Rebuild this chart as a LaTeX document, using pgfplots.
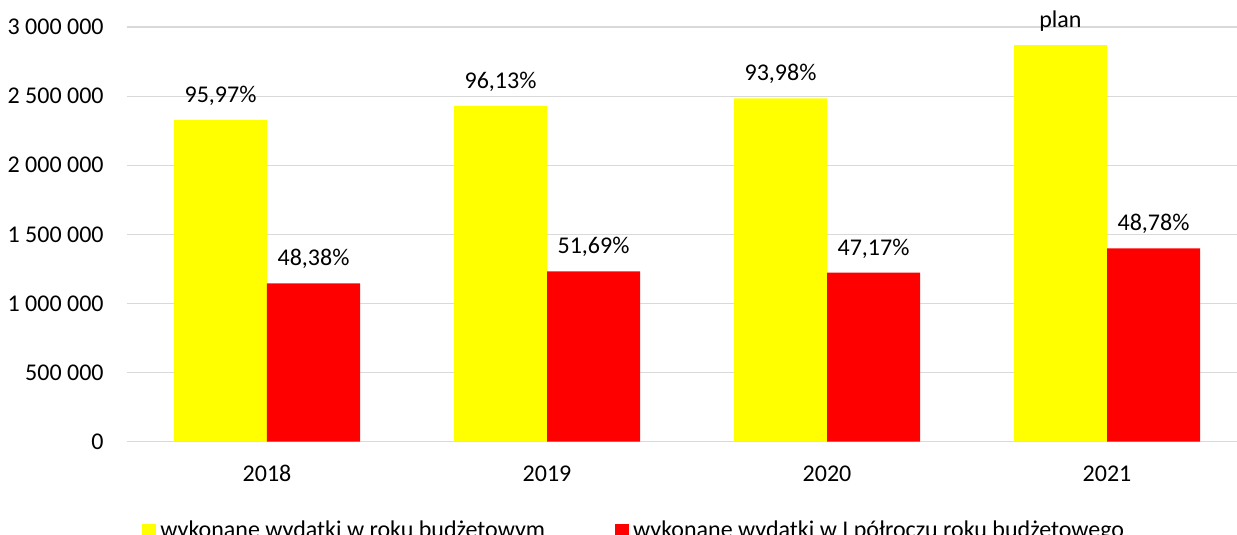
\documentclass[border=0pt]{standalone}
\usepackage{fontspec}
\setmainfont{Carlito}
\usepackage{pgfplots}
\pgfplotsset{compat=1.18}
\definecolor{barY}{HTML}{FFFF00}
\definecolor{barR}{HTML}{FF0000}
\definecolor{gridc}{HTML}{D9D9D9}
\newcommand{\lbl}{\fontsize{12}{14}\selectfont}

\begin{document}
\begin{tikzpicture}
\begin{axis}[
  scale only axis, width=560pt, height=207.25pt,
  ybar=0pt, bar width=46.5pt,
  xmin=-0.5, xmax=3.5, ymin=0, ymax=3000000,
  xtick={0,1,2,3}, xticklabels={2018,2019,2020,2021},
  ytick={0,500000,1000000,1500000,2000000,2500000,3000000},
  yticklabels={0,500 000,1 000 000,1 500 000,2 000 000,2 500 000,3 000 000},
  scaled y ticks=false,
  tick style={draw=none},
  axis line style={draw=none},
  ymajorgrids, grid style={gridc, line width=0.75pt},
  xticklabel style={font=\lbl, anchor=base, inner sep=0pt, yshift=-15.4pt},
  yticklabel style={font=\lbl, anchor=base east, inner sep=0pt, xshift=-11.5pt, yshift=-3.8pt},
  point meta=explicit symbolic,
  nodes near coords,
  every node near coord/.append style={font=\lbl, anchor=base, inner sep=0pt, yshift=8.7pt, text=black},
  legend columns=2,
  legend cell align=left,
  legend image code/.code={\fill[#1] (0pt,-3.5pt) rectangle (7pt,3.5pt);},
  legend style={at={(0.008,-0.2155)}, anchor=west, draw=none, font=\lbl,
    /tikz/every even column/.append style={column sep=33pt}},
]
\addplot[fill=barY, draw=none] coordinates {
  (0,2328000) [95,97\%]
  (1,2430000) [96,13\%]
  (2,2485000) [93,98\%]
  (3,2871000) [plan]
};
\addplot[fill=barR, draw=none] coordinates {
  (0,1146000) [48,38\%]
  (1,1233000) [51,69\%]
  (2,1223000) [47,17\%]
  (3,1400000) [48,78\%]
};
\legend{wykonane wydatki w roku budżetowym, wykonane wydatki w I półroczu roku budżetowego}
\coordinate (O) at (rel axis cs:0,0);
\end{axis}
\pgfresetboundingbox
\path[use as bounding box] ([shift={(-63.5pt,-46.65pt)}]O) rectangle ([shift={(555pt,220.85pt)}]O);
\end{tikzpicture}
\end{document}
